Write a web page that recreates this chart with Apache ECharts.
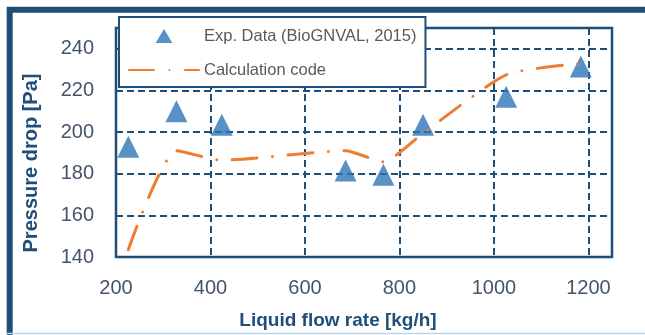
<!DOCTYPE html>
<html>
<head>
<meta charset="utf-8">
<script src="https://cdn.jsdelivr.net/npm/echarts@6/dist/echarts.min.js"></script>
<style>
  html, body { margin: 0; padding: 0; background: #ffffff; }
  #chart { width: 645px; height: 335px; }
</style>
</head>
<body>
<div id="chart"></div>
<script>
// Liquid flow rate [kg/h] of each run
const flowRates = [226, 328, 424, 686, 766, 850, 1026, 1184];
// Measured pressure drop [Pa]
const expValues = [193, 210, 203.5, 181.5, 179.5, 203.5, 217, 231.5];
// Computed pressure drop [Pa]
const calcValues = [143.5, 191, 186.5, 191, 185.8, 199.5, 227.5, 233];

// Axis ticks
const xTicks = [200, 400, 600, 800, 1000, 1200];
const yTicks = [140, 160, 180, 200, 220, 240];
const xMax = 1250;
const yMax = 250;

const expName = 'Exp. Data (BioGNVAL, 2015)';
const calcName = 'Calculation code';
const xTitle = 'Liquid flow rate [kg/h]';
const yTitle = 'Pressure drop [Pa]';

const navy = '#1F4E79';
const labelColor = '#44546A';
const font = 'Liberation Sans, Arial, sans-serif';

const chart = echarts.init(document.getElementById('chart'), null, { renderer: 'canvas' });

const gridLine = { show: true, lineStyle: { color: navy, width: 2, type: [7, 4] } };
const plainNumber = v => String(v);

chart.setOption({
  animation: false,
  backgroundColor: '#ffffff',
  grid: {
    left: 116, right: 33, top: 28, bottom: 78,
    show: true, borderColor: navy, borderWidth: 2.5, backgroundColor: 'transparent'
  },
  xAxis: {
    type: 'value',
    min: xTicks[0], max: xMax, interval: xTicks[1] - xTicks[0],
    axisLine: { show: false },
    axisTick: { show: false },
    splitLine: gridLine,
    axisLabel: {
      showMaxLabel: false, margin: 21, formatter: plainNumber,
      color: labelColor, fontFamily: font, fontSize: 20
    }
  },
  yAxis: {
    type: 'value',
    min: yTicks[0], max: yMax, interval: yTicks[1] - yTicks[0],
    axisLine: { show: false },
    axisTick: { show: false },
    splitLine: gridLine,
    axisLabel: {
      showMaxLabel: false, margin: 22, formatter: plainNumber,
      color: labelColor, fontFamily: font, fontSize: 20
    }
  },
  legend: {
    orient: 'vertical',
    left: 119, top: 17,
    padding: [9, 9, 7, 9],
    itemWidth: 70, itemHeight: 14, itemGap: 14,
    backgroundColor: '#ffffff',
    borderColor: navy, borderWidth: 2,
    textStyle: { color: '#595959', fontFamily: font, fontSize: 16.5, lineHeight: 20 },
    data: [
      { name: expName, icon: 'path://M6,0 L12,10 L0,10 Z' },
      { name: calcName, itemStyle: { color: 'rgba(0,0,0,0)', borderWidth: 0, opacity: 0 } }
    ]
  },
  series: [
    {
      name: expName,
      type: 'scatter',
      symbol: 'triangle',
      symbolSize: 22,
      itemStyle: { color: '#2E75B6' },
      z: 2,
      data: flowRates.map((x, i) => [x, expValues[i]])
    },
    {
      name: calcName,
      type: 'line',
      smooth: 0.2,
      symbol: 'none',
      showSymbol: false,
      lineStyle: { color: '#ED7D31', width: 3, type: [25, 15.5, 0, 15.5], cap: 'round' },
      itemStyle: { color: '#ED7D31' },
      z: 3,
      data: flowRates.map((x, i) => [x, calcValues[i]])
    }
  ],
  graphic: [
    // chart frame
    { type: 'line', shape: { x1: 7, y1: 9.7, x2: 645, y2: 9.7 }, style: { stroke: navy, lineWidth: 6 }, z: 10 },
    { type: 'line', shape: { x1: 9.7, y1: 7, x2: 9.7, y2: 335 }, style: { stroke: navy, lineWidth: 6 }, z: 10 },
    { type: 'line', shape: { x1: 7, y1: 333.5, x2: 645, y2: 333.5 }, style: { stroke: '#BDD7EE', lineWidth: 1.5 }, z: 10 },
    // axis titles
    {
      type: 'text', x: 338, y: 321, z: 10,
      style: { text: xTitle, fill: navy, font: 'bold 19px ' + font, align: 'center', verticalAlign: 'middle' }
    },
    {
      type: 'text', x: 31, y: 163, rotation: Math.PI / 2, z: 10,
      style: { text: yTitle, fill: navy, font: 'bold 20px ' + font, align: 'center', verticalAlign: 'middle' }
    }
  ]
});
</script>
</body>
</html>
